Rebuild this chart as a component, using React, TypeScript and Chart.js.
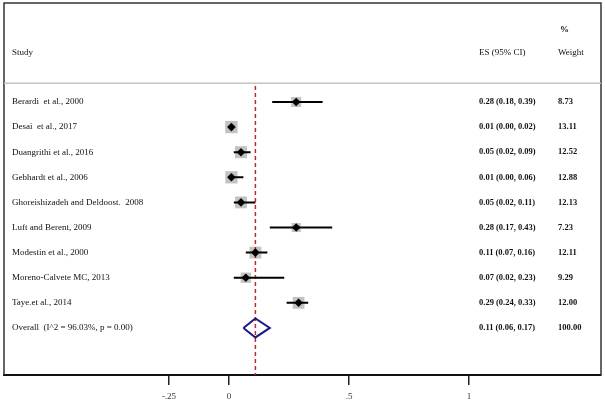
import React, { useEffect, useRef } from 'react';
import { Chart, registerables } from 'chart.js';

Chart.register(...registerables);

// ---- data ----
const studies = [
  'Berardi  et al., 2000',
  'Desai  et al., 2017',
  'Duangrithi et al., 2016',
  'Gebhardt et al., 2006',
  'Ghoreishizadeh and Deldoost.  2008',
  'Luft and Berent, 2009',
  'Modestin et al., 2000',
  'Moreno-Calvete MC, 2013',
  'Taye.et al., 2014',
];
const es = [0.28, 0.01, 0.05, 0.01, 0.05, 0.28, 0.11, 0.07, 0.29];
const lower = [0.18, 0.0, 0.02, 0.0, 0.02, 0.17, 0.07, 0.02, 0.24];
const upper = [0.39, 0.02, 0.09, 0.06, 0.11, 0.43, 0.16, 0.23, 0.33];
const weights = [8.73, 13.11, 12.52, 12.88, 12.13, 7.23, 12.11, 9.29, 12.0];

const overallLabel = 'Overall  (I^2 = 96.03%, p = 0.00)';
const overallES = 0.11;
const overallLower = 0.06;
const overallUpper = 0.17;
const overallWeight = 100.0;

const xTicks = [-0.25, 0, 0.5, 1];
const xTickLabels = ['-.25', '0', '.5', '1'];

const headerStudy = 'Study';
const headerES = 'ES (95% CI)';
const headerPct = '%';
const headerWeight = 'Weight';

// ---- layout constants ----
const W = 605;
const H = 401;
const PAD = 10; // layout padding (>= any point overflow)
const OFF_X = 6; // canvas shift so chart area left lands at x=4
const OFF_Y = 7; // canvas shift so chart area top lands at y=3
const CW = W + 2 * OFF_X;
const CH = 375 + OFF_Y + 26 + PAD;
const X_MIN = -0.9375;
const X_MAX = 1.55;
const Y_MIN = -3.944;
const Y_MAX = 10.876;
const SERIF = '"Liberation Serif", "DejaVu Serif", serif';

const fmt = (v: number) => v.toFixed(2);

const forestPlugin = {
  id: 'forestText',
  afterDraw(chart: any) {
    const { ctx, chartArea, scales } = chart;
    const ys = scales.y;
    const { left, right, top, bottom } = chartArea;
    ctx.save();
    // frame
    ctx.strokeStyle = '#333';
    ctx.lineWidth = 1.5;
    ctx.beginPath();
    ctx.moveTo(left, bottom);
    ctx.lineTo(left, top);
    ctx.lineTo(right, top);
    ctx.lineTo(right, bottom);
    ctx.stroke();
    // header separator
    ctx.strokeStyle = '#c4c4c4';
    ctx.lineWidth = 1.5;
    const sepY = ys.getPixelForValue(-0.75);
    ctx.beginPath();
    ctx.moveTo(left, sepY);
    ctx.lineTo(right, sepY);
    ctx.stroke();

    const xLabel = left + 8;
    const xES = left + 475;
    const xW = left + 554;
    ctx.fillStyle = '#111';
    ctx.textBaseline = 'middle';
    ctx.textAlign = 'left';
    // headers
    ctx.font = `9px ${SERIF}`;
    const hY = ys.getPixelForValue(-1.95);
    ctx.fillText(headerStudy, xLabel, hY);
    ctx.fillText(headerES, xES, hY);
    ctx.fillText(headerWeight, xW, hY);
    ctx.font = `bold 9px ${SERIF}`;
    ctx.fillText(headerPct, xW + 2, ys.getPixelForValue(-2.9));

    // rows
    const allLabels = [...studies, overallLabel];
    const allES = [...es, overallES];
    const allLo = [...lower, overallLower];
    const allHi = [...upper, overallUpper];
    const allW = [...weights, overallWeight];
    allLabels.forEach((lab, i) => {
      const y = ys.getPixelForValue(i);
      ctx.font = `9px ${SERIF}`;
      ctx.fillText(lab, xLabel, y);
      ctx.font = `bold 8.5px ${SERIF}`;
      ctx.fillText(`${fmt(allES[i])} (${fmt(allLo[i])}, ${fmt(allHi[i])})`, xES, y);
      ctx.fillText(fmt(allW[i]), xW, y);
    });
    ctx.restore();
  },
};

export default function App() {
  const ref = useRef<HTMLCanvasElement | null>(null);

  useEffect(() => {
    if (!ref.current) return;
    const squareRadius = weights.map((w) => (3.4 * Math.sqrt(w)) / Math.SQRT2);
    const ciData: any[] = [];
    es.forEach((_, i) => {
      ciData.push({ x: lower[i], y: i });
      ciData.push({ x: upper[i], y: i });
      ciData.push({ x: lower[i], y: null });
    });
    const oy = studies.length;
    const dh = 0.38;
    const chart = new Chart(ref.current, {
      type: 'scatter',
      data: {
        datasets: [
          {
            label: 'overall',
            type: 'line',
            data: [
              { x: overallLower, y: oy },
              { x: overallES, y: oy - dh },
              { x: overallUpper, y: oy },
              { x: overallES, y: oy + dh },
              { x: overallLower, y: oy },
            ],
            borderColor: '#1a1a80',
            borderWidth: 2,
            pointRadius: 0,
            fill: false,
            tension: 0,
            order: 0,
          } as any,
          {
            label: 'es',
            data: es.map((v, i) => ({ x: v, y: i })),
            pointStyle: 'rectRot',
            pointRadius: 4.3,
            backgroundColor: '#000',
            borderWidth: 0,
            order: 1,
          },
          {
            label: 'ci',
            type: 'line',
            data: ciData,
            borderColor: '#000',
            borderWidth: 2,
            pointRadius: 0,
            spanGaps: false,
            fill: false,
            order: 2,
          } as any,
          {
            label: 'weights',
            data: es.map((v, i) => ({ x: v, y: i })),
            pointStyle: 'rect',
            pointRadius: squareRadius,
            backgroundColor: '#c2c2c2',
            borderWidth: 0,
            order: 4,
          },
          {
            label: 'ref',
            type: 'line',
            data: [
              { x: overallES, y: -0.64 },
              { x: overallES, y: Y_MAX },
            ],
            borderColor: '#c0282d',
            borderWidth: 1.5,
            borderDash: [4, 3],
            pointRadius: 0,
            fill: false,
            order: 3,
          } as any,
        ],
      },
      options: {
        responsive: false,
        animation: false,
        events: [],
        layout: { padding: PAD },
        plugins: { legend: { display: false }, tooltip: { enabled: false } },
        scales: {
          x: {
            type: 'linear',
            position: 'bottom',
            min: X_MIN,
            max: X_MAX,
            afterBuildTicks: (s: any) => {
              s.ticks = xTicks.map((v) => ({ value: v }));
            },
            afterFit: (s: any) => {
              s.height = 26;
            },
            ticks: {
              autoSkip: false,
              maxRotation: 0,
              padding: 6,
              color: '#333',
              font: { family: SERIF, size: 9 },
              callback: (v: any) => {
                const idx = xTicks.indexOf(Number(v));
                return idx >= 0 ? xTickLabels[idx] : '';
              },
            },
            grid: {
              drawOnChartArea: false,
              drawTicks: true,
              tickLength: 10,
              color: '#222',
              lineWidth: 1.5,
            },
            border: { display: true, color: '#111', width: 2 },
          },
          y: {
            type: 'linear',
            display: false,
            reverse: true,
            min: Y_MIN,
            max: Y_MAX,
          },
        },
      },
      plugins: [forestPlugin],
    });
    return () => chart.destroy();
  }, []);

  return (
    <div
      style={{
        position: 'absolute',
        left: 0,
        top: 0,
        width: W,
        height: H,
        overflow: 'hidden',
        background: '#fff',
      }}
    >
      <canvas
        ref={ref}
        width={CW}
        height={CH}
        style={{ position: 'absolute', left: -OFF_X, top: -OFF_Y, width: CW, height: CH }}
      />
    </div>
  );
}
